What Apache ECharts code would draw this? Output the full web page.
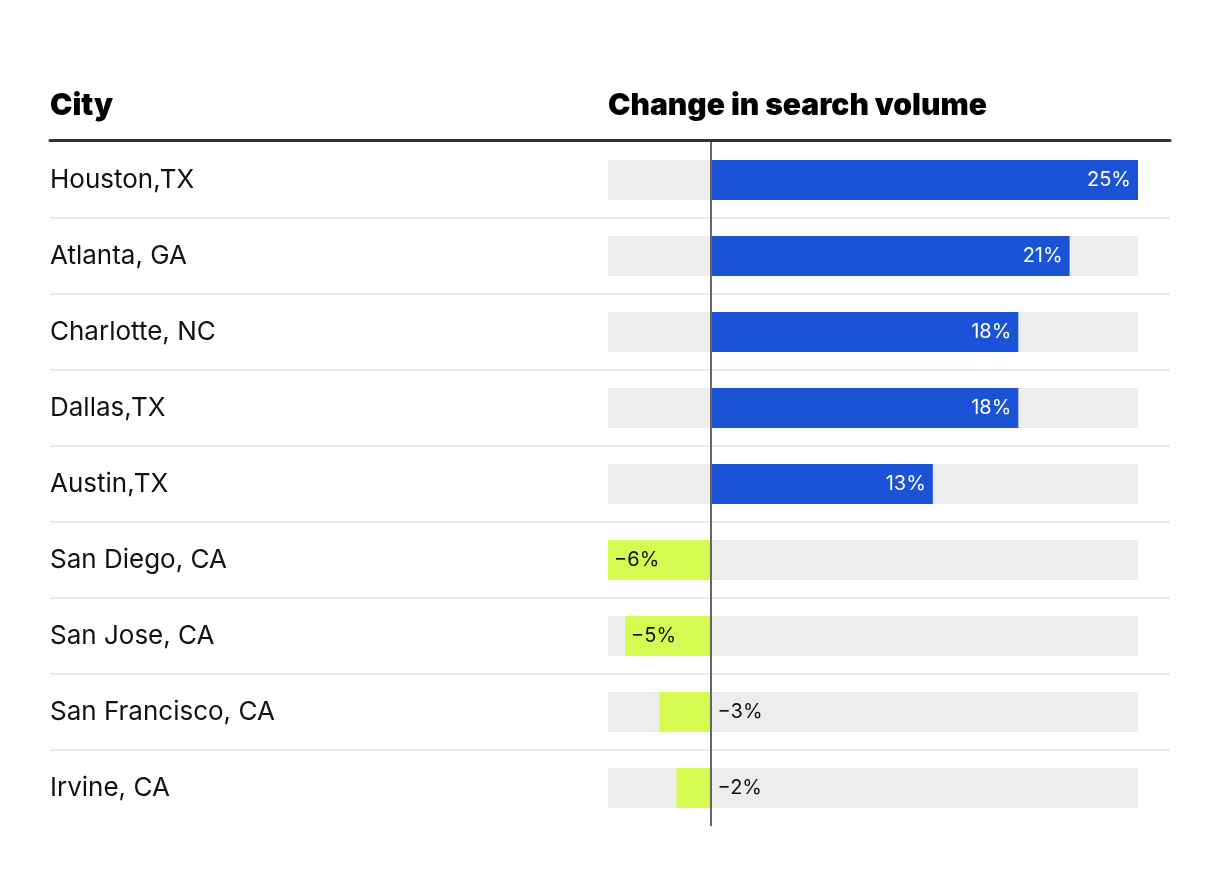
<!DOCTYPE html>
<html>
<head>
<meta charset="utf-8">
<script src="https://cdn.jsdelivr.net/npm/echarts@6/dist/echarts.min.js"></script>
<style>
html,body{margin:0;padding:0;background:#fff;}
#chart{width:1220px;height:874px;}
</style>
</head>
<body>
<div id="chart"></div>
<script>
const cities = ['Houston,TX','Atlanta, GA','Charlotte, NC','Dallas,TX','Austin,TX','San Diego, CA','San Jose, CA','San Francisco, CA','Irvine, CA'];
const changes = [25, 21, 18, 18, 13, -6, -5, -3, -2];
const headers = ['City', 'Change in search volume'];
const axisMin = -6, axisMax = 25;

const BLUE = '#1a53d6', GREEN = '#d5fb52', BG = '#ededed';
const fmt = v => (v < 0 ? '\u2212' + Math.abs(v) : v) + '%';

const barData = changes.map(v => {
  let label;
  if (v >= 0) label = {position: 'insideRight', color: '#fff', distance: 7};
  else if (Math.abs(v) >= 5) label = {position: 'insideLeft', color: '#111', distance: 6};
  else label = {position: 'right', color: '#111', distance: 7};
  return {value: v, itemStyle: {color: v >= 0 ? BLUE : GREEN}, label: label};
});

const chart = echarts.init(document.getElementById('chart'), null, {renderer: 'canvas'});
const FONT = 'Inter, "Noto Sans", sans-serif';
const headStyle = {fontFamily: FONT, fontSize: 30, fontWeight: 900, color: '#000', lineHeight: 34};
chart.setOption({
  animation: false,
  backgroundColor: '#fff',
  textStyle: {fontFamily: FONT},
  title: [
    {text: headers[0], left: 50, top: 89, padding: 0, textStyle: headStyle},
    {text: headers[1], left: 608, top: 89, padding: 0, textStyle: headStyle}
  ],
  grid: [
    {left: 50, right: 50, top: 142, height: 684},
    {left: 608, width: 530, top: 142, height: 684}
  ],
  xAxis: [
    {gridIndex: 0, type: 'value', position: 'top', offset: 2, min: 0, max: 1,
     axisLine: {show: true, onZero: false, lineStyle: {color: '#333', width: 3}},
     axisTick: {show: false}, axisLabel: {show: false}, splitLine: {show: false}},
    {gridIndex: 1, type: 'value', min: axisMin, max: axisMax, show: false}
  ],
  yAxis: [
    {gridIndex: 0, type: 'value', min: 0, max: cities.length, interval: 1, inverse: true,
     axisLine: {show: false}, axisTick: {show: false}, axisLabel: {show: false},
     splitLine: {show: true, showMinLine: false, showMaxLine: false, lineStyle: {color: '#ebebeb', width: 2}}},
    {gridIndex: 1, type: 'category', data: cities, inverse: true,
     axisLine: {show: false}, axisTick: {show: false},
     axisLabel: {align: 'left', margin: 558, fontFamily: FONT, fontSize: 26, color: '#111'}}
  ],
  series: [{
    type: 'bar',
    xAxisIndex: 1, yAxisIndex: 1,
    data: barData,
    barWidth: 40,
    showBackground: true,
    backgroundStyle: {color: BG},
    label: {show: true, formatter: p => fmt(p.value), fontFamily: FONT, fontSize: 20},
    markLine: {
      silent: true, symbol: 'none', label: {show: false},
      lineStyle: {color: '#666', width: 2, type: 'solid'},
      data: [{xAxis: 0}]
    }
  }]
});
</script>
</body>
</html>
